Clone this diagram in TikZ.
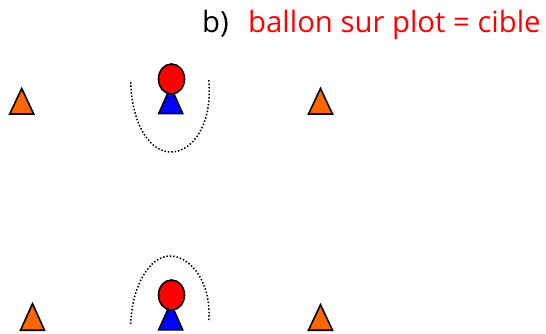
\documentclass[tikz,border=0pt]{standalone}
\usepackage{fontspec}
\setmainfont{Open Sans}
\definecolor{plot}{RGB}{255,102,0}
\tikzset{plotmark/.style={draw=black,line width=1.6pt,fill=plot,line join=miter},
 cible/.style={draw=black,line width=1.6pt,fill=blue},
 ballon/.style={draw=black,line width=1.6pt,fill=red},
 traj/.style={draw=black,line width=1.5pt,dash pattern=on 1.5pt off 1.9pt},
 titre/.style={anchor=base west,font=\fontsize{29.3}{33}\selectfont,inner sep=0}}
\begin{document}
\begin{tikzpicture}[x=1pt,y=-1pt]
\useasboundingbox (0,0) rectangle (546,333);
\def\tri#1#2#3#4{\path[#1] (#2-12,#3) -- (#2,#3-#4) -- (#2+12,#3) -- cycle;}
\tri{plotmark}{21.7}{114}{25.5}
\tri{plotmark}{320.5}{114}{25.5}
\tri{plotmark}{32.5}{330.2}{26.5}
\tri{plotmark}{320.5}{330.2}{25.5}
\tri{cible}{170.7}{113.6}{27}
\tri{cible}{170.7}{329.9}{27}
\path[ballon] (171.5,79) ellipse (13 and 15);
\path[ballon] (171.5,295) ellipse (13 and 15);
\draw[traj] (130.7,82) .. controls (132,125) and (150,152) .. (171,152) .. controls (192,152) and (213,125) .. (208.7,80);
\draw[traj] (130.7,324) .. controls (132,285) and (150,256) .. (170,256) .. controls (192,256) and (212,285) .. (208.7,321);
\node[titre] (b) at (202,32) {b)};
\node[titre,text=red] (t) at (248,32) {ballon sur plot = cible};
\end{tikzpicture}
\end{document}
